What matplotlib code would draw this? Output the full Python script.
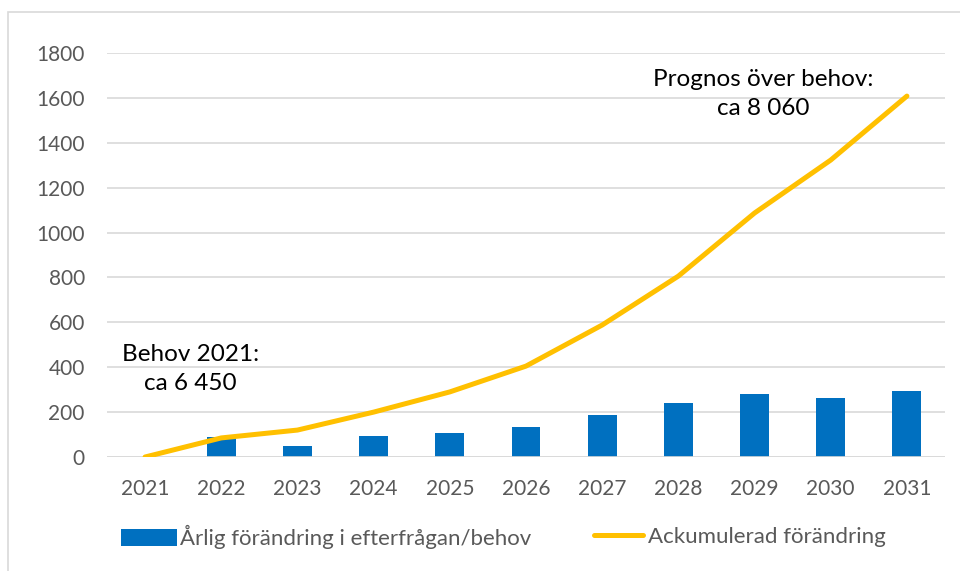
import numpy as np
import matplotlib.pyplot as plt
from matplotlib.patches import Rectangle

plt.rcParams['font.family'] = ['Lato', 'DejaVu Sans']

years = ['2021', '2022', '2023', '2024', '2025', '2026', '2027', '2028', '2029', '2030', '2031']
annual = [0, 90, 49, 93, 107, 134, 187, 239, 282, 261, 293]
cumulative = [0, 85, 120, 200, 290, 405, 588, 806, 1087, 1323, 1608]

bar_color = '#0070C0'
line_color = '#FFC000'
text_gray = '#595959'

fig = plt.figure(figsize=(9.6, 5.71), dpi=100)
ax = fig.add_axes([107/960, 1 - 457/571, (945-107)/960, (457-53)/571])

# outer chart frame
fig.patches.append(Rectangle((8/960, -0.05), 1.2, 1 - 12/571 + 0.05, transform=fig.transFigure,
                             fill=False, edgecolor='#d9d9d9', linewidth=1.2))

x = np.arange(len(years))
bars = ax.bar(x, annual, width=0.38, color=bar_color, zorder=2,
              label='Årlig förändring i efterfrågan/behov')
line, = ax.plot(x, cumulative, color=line_color, linewidth=3.6, solid_capstyle='round', zorder=3,
                label='Ackumulerad förändring')

ax.set_xlim(-0.5, len(years) - 0.5)
ax.set_ylim(0, 1800)
ax.set_yticks(np.arange(0, 1801, 200))
ax.set_xticks(x)
ax.set_xticklabels(years)
ax.grid(axis='y', color='#d9d9d9', linewidth=1.2, zorder=0)
ax.axhline(0, color='#d9d9d9', linewidth=1.2, zorder=2.5)
for s in ax.spines.values():
    s.set_visible(False)
ax.tick_params(axis='both', length=0, labelsize=15, labelcolor=text_gray)
ax.tick_params(axis='y', pad=16)
ax.tick_params(axis='x', pad=16)

ax.text(0.60, 392, 'Behov 2021:\nca 6 450', fontsize=17.5, ha='center', va='center',
        linespacing=1.5, color='black')
ax.text(8.11, 1617, 'Prognos över behov:\nca 8 060', fontsize=17.5, ha='center', va='center',
        linespacing=1.5, color='black')

leg1 = fig.legend(handles=[bars], loc='center left', bbox_to_anchor=(121/960, 1 - 537/571),
                  frameon=False, fontsize=16, handlelength=2.5, handleheight=0.8,
                  handletextpad=0.14, borderpad=0, borderaxespad=0)
leg2 = fig.legend(handles=[line], loc='center left', bbox_to_anchor=(594/960, 1 - 537/571),
                  frameon=False, fontsize=16, handlelength=2.2,
                  handletextpad=0.22, borderpad=0, borderaxespad=0)
for leg in (leg1, leg2):
    for t in leg.get_texts():
        t.set_color(text_gray)

fig.savefig('out.png', dpi=100)
